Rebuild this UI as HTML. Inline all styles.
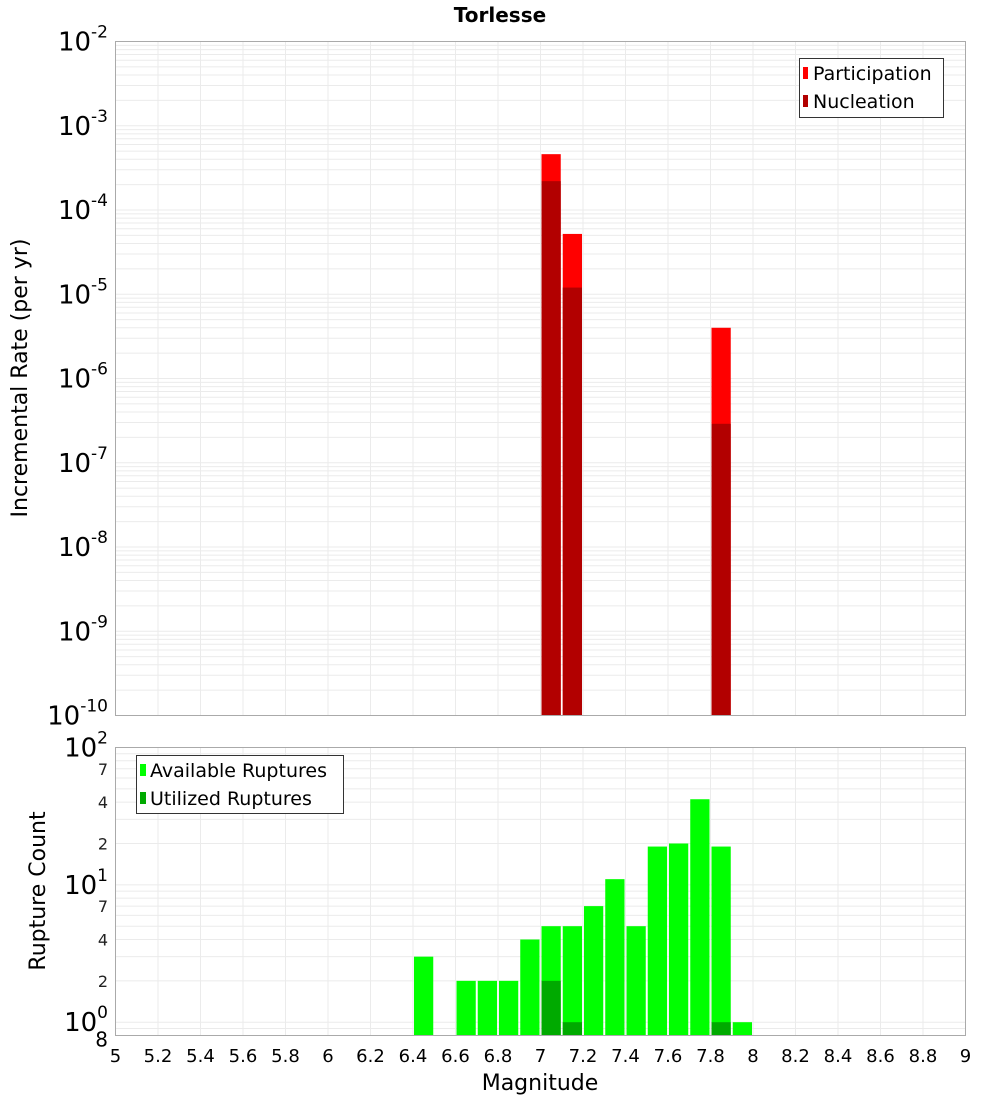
<!DOCTYPE html>
<html><head><meta charset="utf-8"><style>
body{margin:0;background:#fff;font-family:"DejaVu Sans","Liberation Sans",sans-serif}
svg text{font-family:"DejaVu Sans","Liberation Sans",sans-serif}
</style></head><body>
<svg id="c" width="1000" height="1100" xmlns="http://www.w3.org/2000/svg">
<text x="500" y="22" text-anchor="middle" font-size="20" font-weight="bold">Torlesse</text>
<g id="topPlot"></g>
<g id="botPlot"></g>
<text transform="translate(27,378) rotate(-90)" text-anchor="middle" font-size="22">Incremental Rate (per yr)</text>
<text transform="translate(45,891) rotate(-90)" text-anchor="middle" font-size="22">Rupture Count</text>
<text x="540" y="1090" text-anchor="middle" font-size="22">Magnitude</text>
<g>
<rect x="799.5" y="58.5" width="144" height="59" fill="#fff" stroke="#333"/>
<rect x="803" y="67" width="5" height="12" fill="#ff0000"/><text x="813" y="80" font-size="19">Participation</text>
<rect x="803" y="95" width="5" height="12" fill="#b20000"/><text x="813" y="108" font-size="19">Nucleation</text>
</g>
<g>
<rect x="136.5" y="755.5" width="207" height="58" fill="#fff" stroke="#333"/>
<rect x="140" y="764" width="6" height="12" fill="#00ff00"/><text x="150" y="777" font-size="19">Available Ruptures</text>
<rect x="140" y="792" width="6" height="12" fill="#00aa00"/><text x="150" y="805" font-size="19">Utilized Ruptures</text>
</g>
</svg>
<script>
const mags=[7.05,7.15,7.85];
const participation=[4.6e-4,5.2e-5,4.0e-6];
const nucleation=[2.2e-4,1.2e-5,2.9e-7];
const binMags=[6.45,6.65,6.75,6.85,6.95,7.05,7.15,7.25,7.35,7.45,7.55,7.65,7.75,7.85,7.95];
const available=[3,2,2,2,4,5,5,7,11,5,19,20,42,19,1];
const utilized=[0,0,0,0,0,2,1,0,0,0,0,0,0,1,0];
const xTicks=[5,5.2,5.4,5.6,5.8,6,6.2,6.4,6.6,6.8,7,7.2,7.4,7.6,7.8,8,8.2,8.4,8.6,8.8,9];
const topExps=[-10,-9,-8,-7,-6,-5,-4,-3,-2];
const botMinor=[2,4,7];
const NS='http://www.w3.org/2000/svg';
const L=115.5,R=965.5;
const x=m=>L+(m-5)/4*(R-L);
const T1=41.5,B1=715.5;
const yTop=v=>B1-(Math.log10(v)+10)/8*(B1-T1);
const T2=747.5,B2=1035.5;
const yBot=v=>B2-(Math.log10(v)-Math.log10(0.8))/(2-Math.log10(0.8))*(B2-T2);
function mk(p,tag,a,txt){const e=document.createElementNS(NS,tag);for(const k in a)e.setAttribute(k,a[k]);if(txt!==undefined)e.textContent=txt;p.appendChild(e);return e;}
const gTop=document.getElementById('topPlot'),gBot=document.getElementById('botPlot');
for(const t of xTicks){const gl=mk(gTop,'line',{x1:x(t),x2:x(t),y1:T1,y2:B1,stroke:'#ebebeb'});


const g2=mk(gBot,'line',{x1:x(t),x2:x(t),y1:T2,y2:B2,stroke:'#ebebeb'});


const tl=mk(gBot,'text',{x:x(t),y:1062,'text-anchor':'middle','font-size':18},String(t));

}
for(let e=-10;e<-2;e++)for(let k=1;k<10;k++){const yy=yTop(k*Math.pow(10,e));const gl=mk(gTop,'line',{x1:L,x2:R,y1:yy,y2:yy,stroke:'#ebebeb'});

}
for(const e of topExps){const yy=yTop(Math.pow(10,e));const t=mk(gTop,'text',{x:108,y:yy+9,'text-anchor':'end','font-size':26},'10');


mk(t,'tspan',{dy:-13,'font-size':17},String(e));}
for(let e=-1;e<2;e++)for(let k=1;k<10;k++){const v=k*Math.pow(10,e);if(v<0.8||v>100)continue;const yy=yBot(v);const gl=mk(gBot,'line',{x1:L,x2:R,y1:yy,y2:yy,stroke:'#ebebeb'});

}
for(let e=0;e<=2;e++){const yy=yBot(Math.pow(10,e));const t=mk(gBot,'text',{x:108,y:yy+9,'text-anchor':'end','font-size':26},'10');


mk(t,'tspan',{dy:-13,'font-size':17},String(e));
if(e<2)for(const k of botMinor){const m=mk(gBot,'text',{x:108,y:yBot(k*Math.pow(10,e))+6,'text-anchor':'end','font-size':16,fill:'#222'},String(k));

}}
const e8=mk(gBot,'text',{x:108,y:B2+11,'text-anchor':'end','font-size':20},'8');


const bw=(R-L)/40;
mags.forEach((m,i)=>{
const b1=mk(gTop,'rect',{x:x(m)-bw/2+1,width:bw-2,y:yTop(participation[i]),height:B1-yTop(participation[i]),fill:'#ff0000'});


const b2=mk(gTop,'rect',{x:x(m)-bw/2+1,width:bw-2,y:yTop(nucleation[i]),height:B1-yTop(nucleation[i]),fill:'#b20000'});

});
binMags.forEach((m,i)=>{
const b1=mk(gBot,'rect',{x:x(m)-bw/2+1,width:bw-2,y:yBot(available[i]),height:B2-yBot(available[i]),fill:'#00ff00'});


if(utilized[i]>0){const b2=mk(gBot,'rect',{x:x(m)-bw/2+1,width:bw-2,y:yBot(utilized[i]),height:B2-yBot(utilized[i]),fill:'#00aa00'});

}});
const f1=mk(gTop,'rect',{x:L,y:T1,width:R-L,height:B1-T1,fill:'none',stroke:'#aaa'});


const f2=mk(gBot,'rect',{x:L,y:T2,width:R-L,height:B2-T2,fill:'none',stroke:'#aaa'});


</script>
</body></html>
